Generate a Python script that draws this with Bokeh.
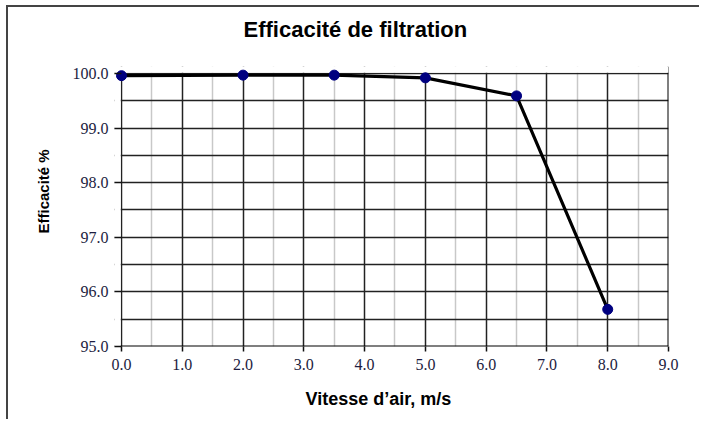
from bokeh.plotting import figure
from bokeh.models import Range1d, FixedTicker, CustomJSTickFormatter, Title, Span, BoxAnnotation
from bokeh.embed import file_html
from bokeh.resources import INLINE

# data
vitesse = [0.0, 2.0, 3.5, 5.0, 6.5, 8.0]
efficacite = [99.96, 99.97, 99.97, 99.92, 99.59, 95.68]
x_ticks = [0, 1, 2, 3, 4, 5, 6, 7, 8, 9]
y_ticks = [95, 96, 97, 98, 99, 100]
x_minor = [0.5, 1.5, 2.5, 3.5, 4.5, 5.5, 6.5, 7.5, 8.5]
y_minor = [95.5, 96.5, 97.5, 98.5, 99.5]
title_text = "Efficacité de filtration"
x_label = "Vitesse d\u2019air, m/s"
y_label = "Efficacité  %"

X_MIN, X_MAX = 0, 9
Y_MIN, Y_MAX = 95, 100

# small padding of the plotting area so the end markers are not cut
p = figure(width=693, height=414, output_backend="svg", toolbar_location=None,
           x_range=Range1d(X_MIN - 0.115, X_MAX), y_range=Range1d(Y_MIN, Y_MAX + 0.128),
           min_border_left=106, min_border_right=33, min_border_top=59, min_border_bottom=75)

p.styles = {"margin-left": "6px", "margin-top": "5px",
            "border-top": "2px solid #444444", "border-left": "2px solid #444444"}

p.outline_line_color = None
p.background_fill_color = "white"
p.border_fill_color = "white"

# title + spacer
p.add_layout(Title(text=" ", text_font_size="14px", standoff=2), "above")
p.title.text = title_text
p.title.text_font = "Liberation Sans"
p.title.text_font_size = "22px"
p.title.text_font_style = "bold"
p.title.align = "left"
p.title.offset = 129
p.title.text_color = "#000000"

for ax in (p.xaxis[0], p.yaxis[0]):
    ax.axis_line_color = None
    ax.major_label_text_font = "Liberation Serif"
    ax.major_label_text_font_size = "16px"
    ax.major_label_text_color = "#1c1c40"
    ax.major_tick_line_color = "#111111"
    ax.major_tick_line_width = 1.5
    ax.minor_tick_line_color = None
    ax.formatter = CustomJSTickFormatter(code="return tick.toFixed(1);")

p.xaxis[0].ticker = FixedTicker(ticks=x_ticks, minor_ticks=x_minor)
p.yaxis[0].ticker = FixedTicker(ticks=y_ticks, minor_ticks=y_minor)
p.xaxis[0].major_tick_in = 0
p.xaxis[0].major_tick_out = 5
p.xaxis[0].major_label_standoff = 7
p.yaxis[0].major_tick_in = 7
p.yaxis[0].major_tick_out = 0
p.yaxis[0].major_label_standoff = 2

# axis titles
p.add_layout(Title(text=" ", text_font_size="11px", standoff=0), "below")
p.add_layout(Title(text=x_label, text_font="Liberation Sans", text_font_size="18px",
                   text_font_style="bold", align="left", offset=191, standoff=0,
                   text_color="#000000"), "below")
p.add_layout(Title(text=y_label, text_font="Liberation Sans", text_font_size="15px",
                   text_font_style="bold", align="left", offset=113, standoff=36,
                   text_color="#000000"), "left")

# grid
p.xgrid[0].ticker = FixedTicker(ticks=x_ticks, minor_ticks=x_minor)
p.ygrid[0].ticker = FixedTicker(ticks=y_ticks, minor_ticks=y_minor)
p.xgrid[0].grid_line_color = "#222222"
p.xgrid[0].grid_line_width = 1.5
p.xgrid[0].minor_grid_line_color = "#c8c8c8"
p.xgrid[0].minor_grid_line_width = 1.5
p.ygrid[0].grid_line_color = "#222222"
p.ygrid[0].grid_line_width = 1.5
p.ygrid[0].minor_grid_line_color = "#222222"
p.ygrid[0].minor_grid_line_width = 1.5

# box edges at x=9 and y=95
p.add_layout(Span(location=X_MAX, dimension="height", line_color="#000000", line_width=2, level="underlay"))
p.add_layout(Span(location=Y_MIN, dimension="width", line_color="#000000", line_width=2, level="underlay"))
# white masks for the padding strip
p.add_layout(BoxAnnotation(right=X_MIN - 0.012, fill_color="white", fill_alpha=1, line_color=None, level="underlay"))
p.add_layout(BoxAnnotation(bottom=Y_MAX + 0.014, fill_color="white", fill_alpha=1, line_color=None, level="underlay"))

p.line(vitesse, efficacite, line_color="#000000", line_width=3.2)
p.scatter(vitesse, efficacite, size=10, fill_color="#000080", line_color="#000080")

open("out.html", "w").write(file_html(p, INLINE))
